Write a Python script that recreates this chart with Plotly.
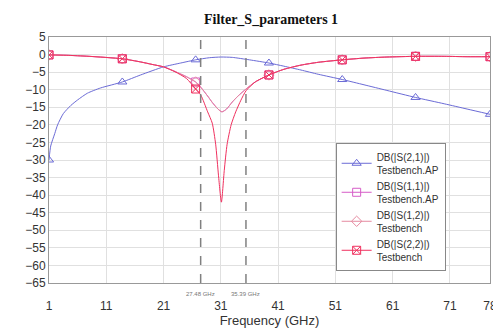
import plotly.graph_objects as go

# ---- data ----
freq_s21 = [1, 1.3, 2, 2.5, 3.5, 4.8, 6, 7.7, 10, 13.8, 17, 21, 24, 26.6, 29, 31, 33, 36,
            39.4, 42, 45, 48, 52.2, 56, 60, 65, 70, 74, 78]
s21_ap = [-30, -26, -22.5, -20, -16.8, -14.5, -12.9, -11, -9.5, -7.8, -5.8, -3.5, -2.4, -1.5,
          -0.9, -0.7, -0.8, -1.5, -2.4, -3.3, -4.4, -5.6, -7.1, -8.6, -10.2, -12.2, -14, -15.5, -17]
s21_markers = [1, 13.8, 26.6, 39.4, 52.2, 65, 78]

freq_s11 = [1, 4, 8, 13.8, 17, 19, 21, 23, 25, 26.6, 27.5, 28.7, 29.5, 30.5, 31.2, 32, 33, 34,
            35.4, 37, 39.4, 42, 45, 48, 52.2, 56, 60, 65, 70, 74, 78]
s11_ap = [-0.1, -0.2, -0.5, -1.2, -2.1, -2.8, -3.5, -4.8, -6.3, -7.8, -9.3, -11.8, -13.6, -15.5,
          -16.3, -15.5, -13.5, -11.8, -9.8, -7.8, -5.8, -4.2, -3.0, -2.2, -1.5, -1.0, -0.7,
          -0.5, -0.5, -0.6, -0.6]
s12_tb = list(s11_ap)

freq_s22 = [1, 4, 8, 13.8, 17, 19, 21, 23, 25, 26.6, 27.5, 28.7, 29.5, 30.1, 30.6, 31.1, 31.6,
            32.1, 32.8, 33.6, 34.5, 35.4, 37, 39.4, 42, 45, 48, 52.2, 56, 60, 65, 70, 74, 78]
s22_tb = [-0.1, -0.2, -0.5, -1.2, -2.1, -2.8, -3.5, -4.9, -6.8, -9.8, -11.5, -16.3, -19.5, -25.5,
          -34.5, -42, -33, -25.5, -20, -16.3, -13, -10.3, -7.8, -5.8, -4.2, -3.0, -2.2, -1.5,
          -1.0, -0.7, -0.5, -0.5, -0.6, -0.6]

x_ticks = [1, 11, 21, 31, 41, 51, 61, 71, 78]
marker_lines = [27.48, 35.39]
marker_labels = ["27.48 GHz", "35.39 GHz"]

series = [
    ("DB(|S(2,1)|)<br>Testbench.AP", freq_s21, s21_ap, "#6b6bd6", "triangle-up-open"),
    ("DB(|S(1,1)|)<br>Testbench.AP", freq_s11, s11_ap, "#d65cc8", "square-open"),
    ("DB(|S(1,2)|)<br>Testbench", freq_s11, s12_tb, "#e68aa0", "diamond-open"),
    ("DB(|S(2,2)|)<br>Testbench", freq_s22, s22_tb, "#f0305e", "square-x-open"),
]

fig = go.Figure()
for name, xs, ys, col, sym in series:
    colors = [col if x in s21_markers else "rgba(0,0,0,0)" for x in xs]
    fig.add_trace(go.Scatter(
        x=xs, y=ys, mode="lines+markers", name=name,
        line=dict(color=col, width=1, shape="spline", smoothing=0.6),
        marker=dict(symbol=sym, size=8, color=colors, line=dict(width=1)),
    ))

for xv, lab in zip(marker_lines, marker_labels):
    fig.add_shape(type="line", xref="x", yref="paper", x0=xv, x1=xv, y0=0, y1=1,
                  line=dict(color="#808080", width=1.5, dash="dash"))
    fig.add_annotation(x=xv, xref="x", y=-0.025, yref="paper", text=lab, showarrow=False,
                       yanchor="top", font=dict(size=6, color="#777", family="Liberation Sans"))

fig.update_layout(
    width=501, height=330,
    margin=dict(l=41, r=13, t=29, b=46),
    paper_bgcolor="white", plot_bgcolor="white",
    title=dict(text="<b>Filter_S_parameters 1</b>", x=0.525, xanchor="center", y=0.965,
               yanchor="middle", font=dict(family="Liberation Serif", size=14, color="#111")),
    font=dict(family="Liberation Sans", size=12, color="#333"),
    xaxis=dict(range=[1, 78], tickvals=x_ticks, ticktext=[str(v) for v in x_ticks],
               showgrid=True, gridcolor="#e0e0e0", gridwidth=1, zeroline=False,
               showline=True, linecolor="#999", mirror=True, ticks="",
               title=dict(text="Frequency (GHz)", font=dict(size=13), standoff=3),
               ticklabelstandoff=12),
    yaxis=dict(range=[-65, 5], dtick=5, tick0=0, showgrid=True, gridcolor="#e0e0e0",
               zeroline=False, showline=True, linecolor="#999", mirror=True, ticks=""),
    showlegend=True,
    legend=dict(x=0.65, xanchor="left", y=0.57, yanchor="top",
                bgcolor="white", bordercolor="#888", borderwidth=1,
                font=dict(size=10, color="#333"),
                itemwidth=30, tracegroupgap=2),
)

fig.write_html("out.html")
